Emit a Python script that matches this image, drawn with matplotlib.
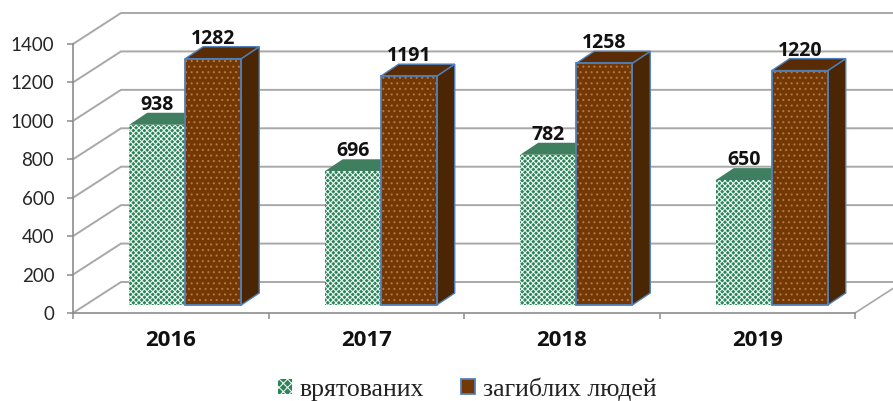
import matplotlib
matplotlib.use("Agg")
import matplotlib.pyplot as plt
from matplotlib.patches import Patch

years = ["2016", "2017", "2018", "2019"]
saved = [938, 696, 782, 650]
dead = [1282, 1191, 1258, 1220]
yticks = [0, 200, 400, 600, 800, 1000, 1200, 1400]
label_saved = "врятованих"
label_dead = "загиблих людей"

W, H = 893, 401
L, R, T, B = 73, 855, 44, 313
plt.rcParams["hatch.linewidth"] = 0.75
fig = plt.figure(figsize=(W / 100, H / 100), dpi=100, facecolor="white")
ax = fig.add_axes([L / W, 1 - B / H, (R - L) / W, (B - T) / H])
ax.set_xlim(0, 4)
ax.set_ylim(0, 1400)
ax.patch.set_visible(False)

px = 4 / (R - L)               # data units per pixel, x
py = 1400 / (B - T)            # data units per pixel, y
wall_dx, wall_dy = 48 * px, 31 * py
base_dx, base_dy = 14.5 * px, 8 * py
bar_dx, bar_dy = 18 * px, 12 * py
bw = 56 * px
GRID = "#a8a8a8"

# walls and floor
for v in yticks:
    ax.plot([0, wall_dx, 4.5], [v, v + wall_dy, v + wall_dy], color=GRID, lw=1.4,
            clip_on=False, zorder=1, solid_joinstyle="miter")
ax.plot([4, 4 + wall_dx], [0, wall_dy], color=GRID, lw=1.2, clip_on=False, zorder=1)

GREEN, GREEN_TOP = "#2a8558", "#3f7f5f"
BROWN, BROWN_TOP, BROWN_SIDE = "#743806", "#5a2c05", "#4a2604"
BLUE = "#4f81bd"

for i, (s, d) in enumerate(zip(saved, dead)):
    c = i + 0.5 + base_dx
    xg, xb = c - bw, c
    yb = base_dy
    # saved: top + front
    ts = yb + s
    ax.fill([xg, xg + bar_dx, xg + bw + bar_dx, xg + bw], [ts, ts + bar_dy, ts + bar_dy, ts],
            color=GREEN_TOP, lw=0, clip_on=False, zorder=3)
    ax.bar(xg, s, bw, bottom=yb, align="edge", facecolor=GREEN, edgecolor="#f4fbf6",
           hatch="xxxxxx", lw=0, clip_on=False, zorder=4)
    # dead: side, top, front
    td = yb + d
    ax.fill([xb + bw, xb + bw + bar_dx, xb + bw + bar_dx, xb + bw],
            [yb, yb + bar_dy, td + bar_dy, td],
            facecolor=BROWN_SIDE, edgecolor=BLUE, lw=1.0, clip_on=False, zorder=5)
    ax.fill([xb, xb + bar_dx, xb + bw + bar_dx, xb + bw], [td, td + bar_dy, td + bar_dy, td],
            facecolor=BROWN_TOP, edgecolor=BLUE, lw=1.0, clip_on=False, zorder=5)
    ax.bar(xb, d, bw, bottom=yb, align="edge", facecolor=BROWN, edgecolor="#b07a40",
           hatch="...", lw=0, clip_on=False, zorder=6)
    ax.bar(xb, d, bw, bottom=yb, align="edge", fill=False, edgecolor=BLUE, lw=1.3,
           clip_on=False, zorder=7)
    # value labels
    for x0, v in ((xg, s), (xb, d)):
        ax.annotate(str(v), (x0 + bw / 2, yb + v + bar_dy), xytext=(0, 8), textcoords="offset pixels",
                    ha="center", va="center", family="Open Sans", weight="bold", fontsize=14,
                    color="#111111", zorder=9, annotation_clip=False)

# axes
for side in ("top", "right"):
    ax.spines[side].set_visible(False)
for side in ("left", "bottom"):
    ax.spines[side].set_color("#8c8c8c")
    ax.spines[side].set_linewidth(1.2)
ax.set_yticks(yticks)
ax.set_yticklabels([str(v) for v in yticks], family="Lato", fontsize=13.5, color="#262626")
ax.tick_params(axis="y", length=4.5, width=1.1, color="#8c8c8c", pad=9)
ax.set_xticks(range(5))
ax.set_xticklabels([])
ax.tick_params(axis="x", which="major", length=4.5, width=1.1, color="#8c8c8c")
ax.set_xticks([i + 0.5 for i in range(4)], minor=True)
ax.set_xticklabels(years, minor=True, family="Open Sans", weight="bold", fontsize=16, color="#111111")
ax.tick_params(axis="x", which="minor", length=0, pad=12)

handles = [Patch(facecolor=GREEN, edgecolor="#f4fbf6", hatch="xxxx", lw=0),
           Patch(facecolor=BROWN, edgecolor=BLUE, lw=1.3)]
fig.legend(handles, [label_saved, label_dead], loc="center", bbox_to_anchor=(467 / W, 1 - 389 / H),
           ncol=2, frameon=False, prop={"family": "Liberation Serif", "size": 18.5},
           handlelength=0.55, handleheight=0.55, handletextpad=0.3, columnspacing=1.45,
           labelcolor="#222222", borderpad=0, borderaxespad=0)

fig.savefig("out.png", dpi=100, facecolor="white")
